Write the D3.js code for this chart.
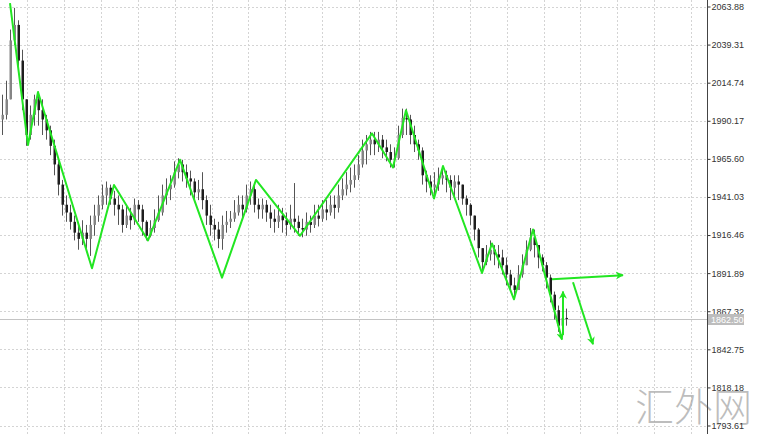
<!DOCTYPE html>
<html>
<head>
<meta charset="utf-8">
<script src="https://cdn.jsdelivr.net/npm/d3@7"></script>
<style>
body { margin: 0; background: #fff; }
svg { display: block; font-family: 'Liberation Sans', Arial, sans-serif; }
</style>
</head>
<body>
<svg id="chart" width="764" height="434"></svg>
<script>
// bar data (open = previous close)
var firstOpen = 1991;
var closes = [1994, 2004, 2042, 2052, 2029, 2004, 1981, 1994, 2004, 1997,
	1991, 1984, 1974, 1962, 1949, 1936, 1931, 1925, 1918, 1914,
	1918, 1914, 1923, 1929, 1936, 1942, 1947, 1940, 1936, 1933,
	1923, 1929, 1926, 1936, 1933, 1925, 1916, 1921, 1926, 1931,
	1942, 1946, 1949, 1957, 1962, 1957, 1953, 1951, 1944, 1946,
	1939, 1929, 1923, 1920, 1914, 1923, 1925, 1927, 1931, 1936,
	1933, 1942, 1946, 1936, 1933, 1936, 1931, 1927, 1925, 1929,
	1926, 1923, 1927, 1925, 1921, 1920, 1925, 1923, 1929, 1927,
	1933, 1931, 1936, 1934, 1942, 1946, 1949, 1952, 1955, 1962,
	1971, 1975, 1978, 1975, 1978, 1973, 1970, 1965, 1966, 1981,
	1992, 1991, 1981, 1975, 1971, 1955, 1951, 1947, 1949, 1953,
	1955, 1952, 1947, 1951, 1949, 1940, 1936, 1929, 1920, 1908,
	1899, 1904, 1907, 1904, 1902, 1897, 1891, 1884, 1881, 1891,
	1897, 1907, 1915, 1910, 1902, 1897, 1889, 1878, 1868, 1858,
	1863, 1862.5];
var highs = [2007, 2016, 2049, 2063, 2055, 2036, 2004, 2000, 2007, 2009,
	2004, 1994, 1987, 1978, 1965, 1952, 1942, 1936, 1929, 1923,
	1926, 1923, 1929, 1936, 1942, 1949, 1951, 1949, 1945, 1942,
	1936, 1936, 1934, 1940, 1939, 1936, 1926, 1926, 1933, 1942,
	1949, 1953, 1955, 1964, 1966, 1965, 1962, 1958, 1953, 1952,
	1957, 1942, 1936, 1927, 1925, 1929, 1932, 1932, 1939, 1942,
	1942, 1949, 1951, 1949, 1940, 1940, 1939, 1936, 1933, 1936,
	1934, 1931, 1936, 1950, 1929, 1927, 1931, 1929, 1936, 1936,
	1939, 1939, 1942, 1942, 1949, 1953, 1957, 1960, 1962, 1968,
	1978, 1981, 1983, 1983, 1983, 1981, 1978, 1975, 1973, 1987,
	1998, 1998, 1994, 1987, 1978, 1973, 1958, 1955, 1957, 1960,
	1960, 1958, 1955, 1955, 1955, 1949, 1942, 1937, 1929, 1921,
	1908, 1910, 1913, 1910, 1910, 1907, 1902, 1894, 1889, 1897,
	1904, 1913, 1921, 1920, 1910, 1904, 1899, 1891, 1880, 1871,
	1871, 1869];
var lows = [1981, 1991, 2004, 2039, 2023, 1997, 1974, 1978, 1987, 1987,
	1981, 1978, 1968, 1955, 1942, 1929, 1925, 1920, 1913, 1907,
	1910, 1908, 1903, 1916, 1925, 1933, 1936, 1936, 1929, 1923,
	1918, 1921, 1920, 1923, 1925, 1916, 1913, 1915, 1918, 1925,
	1929, 1936, 1939, 1947, 1953, 1951, 1947, 1942, 1939, 1939,
	1933, 1923, 1916, 1913, 1908, 1907, 1918, 1921, 1925, 1929,
	1926, 1931, 1936, 1931, 1927, 1927, 1925, 1921, 1918, 1921,
	1918, 1916, 1920, 1918, 1916, 1915, 1916, 1918, 1921, 1922,
	1925, 1926, 1929, 1927, 1931, 1939, 1942, 1944, 1947, 1952,
	1960, 1962, 1968, 1968, 1970, 1966, 1964, 1960, 1960, 1965,
	1979, 1981, 1975, 1970, 1965, 1949, 1944, 1942, 1942, 1945,
	1949, 1944, 1939, 1940, 1939, 1936, 1929, 1923, 1913, 1902,
	1893, 1897, 1900, 1897, 1895, 1891, 1884, 1880, 1876, 1881,
	1889, 1897, 1906, 1902, 1895, 1893, 1882, 1873, 1862, 1854,
	1852, 1858];

var priceTicks = [2063.88, 2039.31, 2014.74, 1990.17, 1965.60, 1941.03, 1916.46, 1891.89, 1867.32, 1842.75, 1818.18, 1793.61];

// zigzag turning points (bar index, price)
var zigIdx = [2, 6.5, 9, 22.5, 28, 36.5, 44.5, 55, 63.5, 74.5, 92.5, 97.75, 101, 108, 110.25, 120, 122.5, 128, 132.75, 140];
var zigPrice = [2066, 1974.5, 2008.7, 1895, 1948.7, 1913, 1965, 1889, 1952, 1916, 1982, 1960, 1997, 1940, 1961, 1892, 1911, 1875, 1920, 1849];

// projection arrows
var arrowFromIdx = [140.25, 137.5, 142.75];
var arrowFromPrice = [1852, 1888, 1886];
var arrowToIdx = [140.25, 155.25, 147.75];
var arrowToPrice = [1880, 1890.6, 1846];

var GREEN = '#22e622';
var AXIS_X = 707;

var svg = d3.select('#chart');

var x = d3.scaleLinear().domain([ 0, closes.length - 1 ]).range([ 2, 566 ]);
var y = d3.scaleLinear().domain([ 1793.61, 2063.88 ]).range([ 425.5, 6.5 ]);

var bars = closes.map(function(c, i) {
	var o = i == 0 ? firstOpen : closes[i - 1];
	return {
		i: i,
		o: o,
		c: c,
		h: Math.max(highs[i], o, c),
		l: Math.min(lows[i], o, c)
	};
});

// grid
var grid = svg.append('g').attr('class', 'grid');
for (var gx = 27; gx < AXIS_X - 5; gx += 36.9) {
	grid.append('line')
		.attr('x1', Math.round(gx) + 0.5)
		.attr('x2', Math.round(gx) + 0.5)
		.attr('y1', 0)
		.attr('y2', 434)
		.attr('stroke', '#d4d4d4')
		.attr('stroke-dasharray', '2,2');
}
grid.selectAll('.hgrid')
	.data(priceTicks)
	.enter()
	.append('line')
	.attr('class', 'hgrid')
	.attr('x1', 0)
	.attr('x2', AXIS_X)
	.attr('y1', function(d) { return Math.round(y(d)) + 0.5; })
	.attr('y2', function(d) { return Math.round(y(d)) + 0.5; })
	.attr('stroke', '#d4d4d4')
	.attr('stroke-dasharray', '2,2');

// current price line
var last = closes[closes.length - 1];
svg.append('line')
	.attr('x1', 0)
	.attr('x2', AXIS_X)
	.attr('y1', Math.round(y(last)) + 0.5)
	.attr('y2', Math.round(y(last)) + 0.5)
	.attr('stroke', '#c4c4c4');

// candles
var candles = svg.append('g').attr('class', 'candles');
candles.selectAll('.wick')
	.data(bars)
	.enter()
	.append('line')
	.attr('class', 'wick')
	.attr('x1', function(d) { return Math.round(x(d.i)) + 0.5; })
	.attr('x2', function(d) { return Math.round(x(d.i)) + 0.5; })
	.attr('y1', function(d) { return y(d.h); })
	.attr('y2', function(d) { return y(d.l); })
	.attr('stroke', '#555');
candles.selectAll('.body')
	.data(bars)
	.enter()
	.append('rect')
	.attr('class', 'body')
	.attr('x', function(d) { return Math.round(x(d.i)) - 0.5; })
	.attr('width', 2.5)
	.attr('y', function(d) { return y(Math.max(d.o, d.c)); })
	.attr('height', function(d) { return Math.max(1, Math.abs(y(d.o) - y(d.c))); })
	.attr('fill', function(d) { return d.c >= d.o ? '#858585' : '#1e1e1e'; });

// arrow marker
svg.append('defs')
	.append('marker')
	.attr('id', 'head')
	.attr('viewBox', '0 0 10 10')
	.attr('refX', 9)
	.attr('refY', 5)
	.attr('markerWidth', 4)
	.attr('markerHeight', 4)
	.attr('orient', 'auto')
	.append('path')
	.attr('d', 'M0,0 L10,5 L0,10 L3,5 Z')
	.attr('fill', GREEN);

// zigzag
var zig = zigIdx.map(function(d, i) { return [ d, zigPrice[i] ]; });
var line = d3.line()
	.x(function(d) { return x(d[0]); })
	.y(function(d) { return y(d[1]); });
svg.append('path')
	.datum(zig)
	.attr('d', line)
	.attr('fill', 'none')
	.attr('stroke', GREEN)
	.attr('stroke-width', 2)
	.attr('stroke-linejoin', 'round')
	.attr('marker-end', 'url(#head)');

svg.selectAll('.arrow')
	.data(arrowFromIdx)
	.enter()
	.append('line')
	.attr('class', 'arrow')
	.attr('x1', function(d) { return x(d); })
	.attr('y1', function(d, i) { return y(arrowFromPrice[i]); })
	.attr('x2', function(d, i) { return x(arrowToIdx[i]); })
	.attr('y2', function(d, i) { return y(arrowToPrice[i]); })
	.attr('stroke', GREEN)
	.attr('stroke-width', 2)
	.attr('marker-end', 'url(#head)');

// watermark
svg.append('text')
	.attr('x', 635)
	.attr('y', 421)
	.attr('font-family', "'Noto Sans CJK SC', sans-serif")
	.attr('font-size', 39)
	.attr('font-weight', 300)
	.attr('fill', '#a8a8a8')
	.attr('fill-opacity', 0.75)
	.text('汇外网');

// price axis
var axis = svg.append('g')
	.attr('class', 'y axis')
	.attr('transform', 'translate(' + (AXIS_X + 0.5) + ',0)')
	.call(
		d3.axisRight(y)
			.tickValues(priceTicks)
			.tickSize(3)
			.tickPadding(1)
			.tickFormat(d3.format('.2f'))
	);
axis.select('.domain').remove();
axis.selectAll('.tick line').attr('stroke', '#333');
axis.selectAll('.tick text')
	.attr('font-family', "'Liberation Sans', Arial, sans-serif")
	.attr('font-size', 9)
	.attr('fill', '#333');

svg.append('line')
	.attr('x1', AXIS_X + 0.5)
	.attr('x2', AXIS_X + 0.5)
	.attr('y1', 0)
	.attr('y2', 434)
	.attr('stroke', '#444');

// current price tag
svg.append('rect')
	.attr('x', AXIS_X + 1)
	.attr('y', Math.round(y(last)) - 5)
	.attr('width', 36)
	.attr('height', 11)
	.attr('fill', '#bdbdbd');
svg.append('text')
	.attr('x', AXIS_X + 4)
	.attr('y', Math.round(y(last)) + 4)
	.attr('font-size', 9)
	.attr('fill', '#fff')
	.text(d3.format('.2f')(last));
</script>
</body>
</html>
